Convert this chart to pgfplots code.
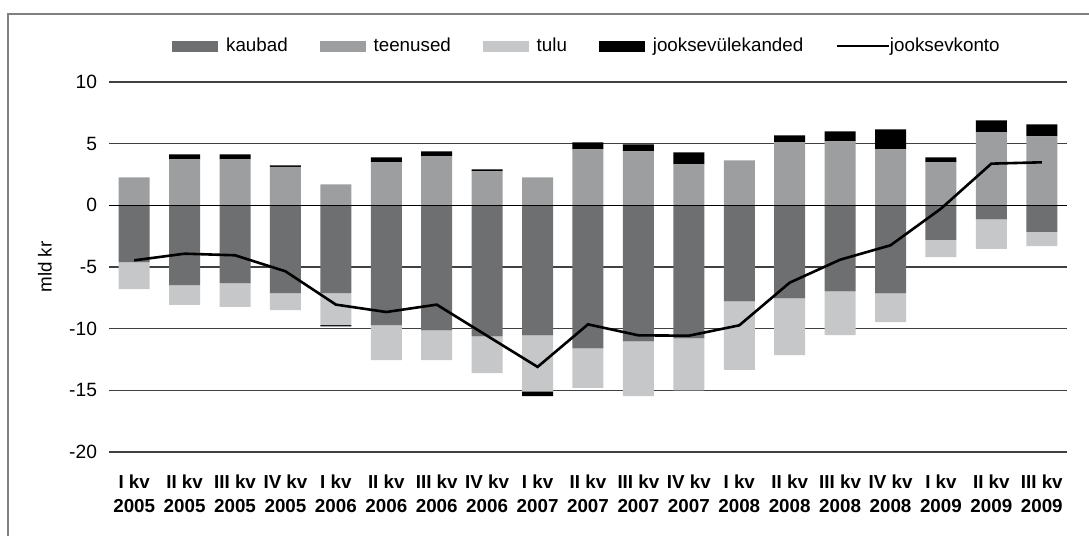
\documentclass[border=0pt]{standalone}
\usepackage{pgfplots}
\pgfplotsset{compat=1.18}
\usepackage{pgfplotstable}
\usepackage{fontspec}
\setmainfont{Liberation Sans}
\definecolor{kaubad}{RGB}{110,111,113}
\definecolor{teenused}{RGB}{157,158,160}
\definecolor{tulu}{RGB}{198,199,201}
\definecolor{framegray}{RGB}{128,128,128}

\pgfplotstableread{
x k s t jp jn kon
0 -4.60 2.27 -2.19 0 0 -4.46
1 -6.46 3.73 -1.62 0.41 0 -3.92
2 -6.30 3.73 -1.94 0.41 0 -4.05
3 -7.11 3.11 -1.38 0.13 0 -5.35
4 -7.11 1.70 -2.60 0 -0.10 -8.05
5 -9.71 3.49 -2.84 0.40 0 -8.65
6 -10.14 3.97 -2.41 0.41 0 -8.05
7 -10.62 2.76 -2.98 0.16 0 -10.58
8 -10.54 2.27 -4.55 0 -0.38 -13.10
9 -11.60 4.54 -3.20 0.57 0 -9.65
10 -11.03 4.38 -4.43 0.57 0 -10.54
11 -10.79 3.33 -4.21 0.97 0 -10.57
12 -7.79 3.65 -5.56 0 0 -9.73
13 -7.54 5.11 -4.60 0.57 0 -6.27
14 -6.97 5.19 -3.55 0.81 0 -4.41
15 -7.14 4.54 -2.32 1.62 0 -3.24
16 -2.81 3.49 -1.38 0.40 0 -0.27
17 -1.14 5.92 -2.40 0.97 0 3.38
18 -2.16 5.60 -1.14 0.97 0 3.49
}\data

\pgfplotsset{
  base/.style={
    scale only axis, width=479pt, height=185pt,
    xmin=-0.5, xmax=18.5, ymin=-20, ymax=10,
    axis line style={draw=none}, tick style={draw=none},
  },
  legkaubad/.style={legend image code/.code={\fill[kaubad] (0pt,-2.6pt) rectangle (22.5pt,2.6pt);}},
  legteenused/.style={legend image code/.code={\fill[teenused] (0pt,-2.6pt) rectangle (22.5pt,2.6pt);}},
  legtulu/.style={legend image code/.code={\fill[tulu] (0pt,-2.6pt) rectangle (22.5pt,2.6pt);}},
  legjv/.style={legend image code/.code={\fill[black] (0pt,-2.6pt) rectangle (22.5pt,2.6pt);}},
  legline/.style={legend image code/.code={\draw[black, line width=1.3pt] (0pt,0pt) -- (22pt,0pt); \draw[overlay, black, line width=1.3pt] (21pt,0pt) -- (26pt,0pt);}},
}

\begin{document}
\begin{tikzpicture}
\path[use as bounding box] (-54.5pt,-42pt) rectangle (490pt,226pt);
\draw[framegray, line width=1pt] (-50.5pt,-45pt) -- (-50.5pt,219pt) -- (492pt,219pt);
\begin{axis}[base, ybar stacked, bar width=15.5pt,
  ytick={-20,-15,...,10}, ymajorgrids, major grid style={black!75, line width=0.8pt},
  xtick={0,...,18},
  xticklabels={{I kv\\2005},{II kv\\2005},{III kv\\2005},{IV kv\\2005},{I kv\\2006},{II kv\\2006},{III kv\\2006},{IV kv\\2006},{I kv\\2007},{II kv\\2007},{III kv\\2007},{IV kv\\2007},{I kv\\2008},{II kv\\2008},{III kv\\2008},{IV kv\\2008},{I kv\\2009},{II kv\\2009},{III kv\\2009}},
  xticklabel style={align=center, font=\fontsize{9.4}{12}\selectfont\bfseries, yshift=-8pt},
  yticklabel style={font=\fontsize{9.6}{11}\selectfont, xshift=-2.5pt},
  /pgf/number format/assume math mode=true,
  ylabel={mld kr},
  ylabel style={at={(axis description cs:-0.0668,0.5)}, anchor=center, font=\fontsize{9.4}{11}\selectfont},
]
\addplot[fill=kaubad, draw=none] table[x=x, y=k] {\data};
\addplot[fill=tulu, draw=none] table[x=x, y=t] {\data};
\addplot[fill=black, draw=none] table[x=x, y=jn] {\data};
\end{axis}
\begin{axis}[base, ybar stacked, bar width=15.5pt, xtick=\empty, ytick=\empty]
\addplot[fill=teenused, draw=none] table[x=x, y=s] {\data};
\addplot[fill=black, draw=none] table[x=x, y=jp] {\data};
\end{axis}
\begin{axis}[base, xtick=\empty, ytick=\empty,
  legend columns=5, legend cell align=left,
  legend style={at={(0.5,1.097)}, anchor=center, draw=none, fill=none,
    font=\fontsize{9.4}{11}\selectfont,
    /tikz/every odd column/.append style={column sep=2pt},
    /tikz/every even column/.append style={column sep=14pt}},
]
\draw[black, line width=0.8pt] (axis cs:-0.5,0) -- (axis cs:18.5,0);
\addlegendimage{legkaubad}\addlegendentry{kaubad}
\addlegendimage{legteenused}\addlegendentry{teenused}
\addlegendimage{legtulu}\addlegendentry{tulu}
\addlegendimage{legjv}\addlegendentry{jooksevülekanded}
\addplot[black, line width=1.3pt, mark=none, legline] table[x=x, y=kon] {\data};
\addlegendentry{jooksevkonto}
\end{axis}
\end{tikzpicture}
\end{document}
